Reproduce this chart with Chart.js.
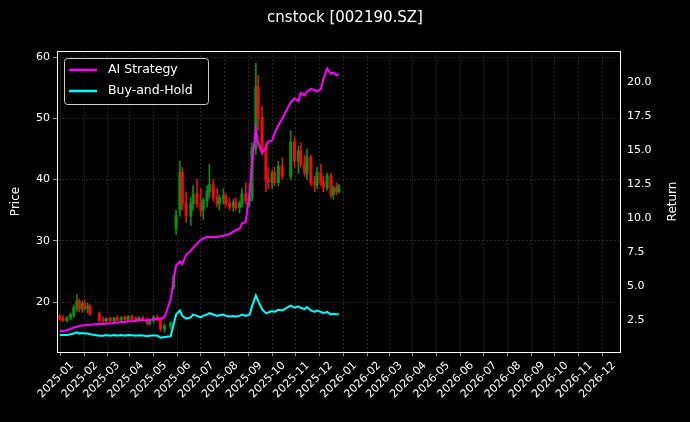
<!DOCTYPE html>
<html><head><meta charset="utf-8">
<script src="https://cdn.jsdelivr.net/npm/chart.js@4"></script>
<style>html,body{margin:0;background:#000;}#w{width:690px;height:422px;}</style>
</head><body><div id="w"><canvas id="c"></canvas></div>
<script>
const tickLabels=['2025-01','2025-02','2025-03','2025-04','2025-05','2025-06','2025-07','2025-08','2025-09','2025-10','2025-11','2025-12','2026-01','2026-02','2026-03','2026-04','2026-05','2026-06','2026-07','2026-08','2026-09','2026-10','2026-11','2026-12'];
const dates=['2024-12-16','2024-12-20','2024-12-25','2024-12-30','2025-01-03','2025-01-07','2025-01-10','2025-01-14','2025-01-17','2025-01-21','2025-01-24',
'2025-02-05','2025-02-10','2025-02-14','2025-02-19','2025-02-24','2025-02-28',
'2025-03-05','2025-03-10','2025-03-14','2025-03-19','2025-03-24','2025-03-28',
'2025-04-02','2025-04-08','2025-04-11','2025-04-16','2025-04-21','2025-04-25','2025-04-30',
'2025-05-08','2025-05-12','2025-05-15','2025-05-20','2025-05-23','2025-05-28',
'2025-06-03','2025-06-06','2025-06-11','2025-06-16','2025-06-19','2025-06-24','2025-06-27',
'2025-07-02','2025-07-07','2025-07-10','2025-07-15','2025-07-18','2025-07-23','2025-07-28','2025-07-31',
'2025-08-05','2025-08-08','2025-08-13','2025-08-18','2025-08-21','2025-08-26','2025-08-29',
'2025-09-03','2025-09-08','2025-09-11','2025-09-16','2025-09-19','2025-09-24','2025-09-29',
'2025-10-10','2025-10-15','2025-10-20','2025-10-23','2025-10-28','2025-10-31',
'2025-11-05','2025-11-10','2025-11-13','2025-11-18','2025-11-21','2025-11-26',
'2025-12-01','2025-12-04','2025-12-08','2025-12-11'];
const open=[17.5,17.2,17.0,17.4,17.8,19.0,20.0,18.8,19.6,18.9,19.2, 18.0,17.0,16.9,17.2,16.9,17.3, 17.0,17.4,17.1,17.5,17.2,17.0, 17.3,17.1,16.5,16.9,17.4,17.0,15.6, 16.0,22.5,32,35,41,36, 34,36,37.5,36,35,36.5,38, 39,37,36,36.8,37.2,36,35.5,36.2, 35.4,36,37.5,36.5,37,45,55, 50,45,40,39.5,41,39.5,42, 40.5,46,43,44.5,42.5,41, 43.5,39.5,39,41,39.5,38.6, 40.5,37.5,38.5,38];
const high=[18,17.8,17.6,18.2,19.5,21.2,20.5,20.2,20.4,19.8,19.6, 18.4,17.6,17.4,17.6,17.5,17.8, 17.6,17.7,17.8,17.9,17.6,17.6, 17.7,17.4,17.2,17.8,17.9,17.2,16.4, 16.8,24.5,35,43,42,38, 37,39,40,38.5,37,39,42.5, 40,38.5,37.5,38.5,37.8,37,36.8,37, 36.5,38.5,39.5,37.5,46,59,57, 52,46,42,41.5,42,43,43.5, 48,47,45.5,46,44,45, 44,40.5,42,42.5,40.5,41, 41,39,39.5,39.2];
const low=[17,16.8,16.7,17.1,17.5,18.5,18.4,18.3,18.6,18.2,17.8, 16.8,16.5,16.5,16.8,16.6,16.9, 16.7,16.9,16.9,17.0,16.8,16.8, 16.9,16.2,16.2,16.6,16.9,15.2,15.0, 15.6,22,31,34,35,33, 32.5,35,35.5,34,33.5,35.5,37, 36.5,35.5,35,36,35.5,35,34.8,35, 34.5,35.5,36,35.5,36.5,44,48, 44,38,38.5,38.5,39,39,40, 40,42,41,42,40.5,40, 39,38,38.5,39,38,38.2, 37,36.8,37.5,37.8];
const close=[17.2,17.0,17.4,17.8,19.0,20.0,18.8,19.6,18.9,19.2,18.0, 17.0,16.9,17.2,16.9,17.3,17.0, 17.4,17.1,17.5,17.2,17.0,17.3, 17.1,16.5,16.9,17.4,17.0,15.6,16.0, 16.4,24.0,34,41,36,34, 36,37.5,36,35,36.5,38,39, 37,36,36.8,37.2,36,35.5,36.2,35.4, 36,37.5,36.5,37,45,55,50, 45,40,39.5,41,39.5,42,40.5, 46,43,44.5,42.5,41,43.5, 39.5,39,41,39.5,38.6,40.5, 37.5,38.5,38,38.8];
const aiStrategy=[1.7,1.7,1.75,1.85,1.95,2.0,2.05,2.1,2.1,2.15,2.15, 2.2,2.2,2.25,2.25,2.3,2.3, 2.35,2.35,2.4,2.4,2.45,2.5, 2.5,2.45,2.5,2.55,2.6,2.6,2.7, 4.0,5.5,6.5,6.8,6.6,7.3, 7.6,7.8,8.1,8.4,8.5,8.6,8.6, 8.6,8.6,8.65,8.7,8.75,8.8,9.0,9.1, 9.2,9.6,9.7,12.0,14.0,16.5,15.5, 14.8,15.2,15.6,15.7,16.2,16.8,17.3, 18.5,18.8,18.6,19.2,19.0,19.3, 19.5,19.4,19.3,19.5,20.2,21.0, 20.6,20.7,20.5,20.6];
const buyHold=[1.4,1.4,1.4,1.45,1.5,1.6,1.5,1.55,1.5,1.5,1.45, 1.35,1.35,1.4,1.35,1.4,1.35, 1.4,1.35,1.4,1.38,1.35,1.38, 1.36,1.3,1.35,1.38,1.35,1.2,1.25, 1.3,2.2,2.9,3.2,2.8,2.6, 2.7,2.9,2.8,2.7,2.8,2.9,3.0, 2.9,2.8,2.85,2.9,2.8,2.75,2.8,2.75, 2.8,2.9,2.8,2.9,3.5,4.3,3.9, 3.3,3.0,3.05,3.15,3.1,3.25,3.2, 3.55,3.4,3.5,3.4,3.3,3.45, 3.2,3.1,3.2,3.1,3.0,3.1, 2.9,2.95,2.9,2.95];

const base=Date.UTC(2025,0,1);
const dayOf=s=>{const p=s.split('-').map(Number);return (Date.UTC(p[0],p[1]-1,p[2])-base)/86400000;};
const X=dates.map(dayOf);
const tickDays=tickLabels.map(t=>dayOf(t+'-01'));
const up=i=>close[i]>=open[i];
const col=i=>up(i)?'#138a13':'#e01010';
const wick=X.map((x,i)=>({x,y:[low[i],high[i]]}));
const body=X.map((x,i)=>({x,y:[Math.min(open[i],close[i]),Math.max(open[i],close[i])+0.15]}));
const ai=X.map((x,i)=>({x,y:aiStrategy[i]}));
const bh=X.map((x,i)=>({x,y:buyHold[i]}));
const F='DejaVu Sans';
const deco={id:'deco',afterDraw(ch){const c=ch.ctx,a=ch.chartArea;c.save();
c.fillStyle='#fff';c.font='15px '+F;c.textAlign='center';c.textBaseline='middle';c.fillText('cnstock [002190.SZ]',345,18);
c.font='12px '+F;
c.save();c.translate(16,(a.top+a.bottom)/2);c.rotate(-Math.PI/2);c.fillText('Price',0,0);c.restore();
c.save();c.translate(673,(a.top+a.bottom)/2);c.rotate(-Math.PI/2);c.fillText('Return',0,0);c.restore();
c.strokeStyle='#fff';c.lineWidth=1;c.strokeRect(a.left+0.5,a.top+0.5,a.right-a.left,a.bottom-a.top);
c.fillStyle='rgba(0,0,0,0.8)';c.strokeStyle='#ccc';c.beginPath();c.roundRect(64.5,58.5,144,46,3);c.fill();c.stroke();
c.lineWidth=2.5;c.strokeStyle='#ff00ff';c.beginPath();c.moveTo(69,70);c.lineTo(97,70);c.stroke();
c.strokeStyle='#00ffff';c.beginPath();c.moveTo(69,91);c.lineTo(97,91);c.stroke();
c.fillStyle='#fff';c.font='12.5px '+F;c.textAlign='left';c.fillText('AI Strategy',108,70);c.fillText('Buy-and-Hold',108,91);
c.restore();}};
new Chart(document.getElementById('c'),{
data:{datasets:[
{type:'bar',data:wick,yAxisID:'y',backgroundColor:wick.map((_,i)=>col(i)),barThickness:1,grouped:false,order:3},
{type:'bar',data:body,yAxisID:'y',backgroundColor:body.map((_,i)=>col(i)),barThickness:2.5,grouped:false,order:2},
{type:'line',data:ai,yAxisID:'y2',borderColor:'#ff00ff',borderWidth:2,pointRadius:0,tension:0,order:1},
{type:'line',data:bh,yAxisID:'y2',borderColor:'#00ffff',borderWidth:2,pointRadius:0,tension:0,order:0}
]},
options:{responsive:true,maintainAspectRatio:false,animation:false,
layout:{padding:{top:51,left:0,right:0,bottom:0}},
plugins:{legend:{display:false},tooltip:{enabled:false}},
scales:{
x:{type:'linear',min:-19.7,max:707,offset:false,
 afterBuildTicks:ax=>{ax.ticks=tickDays.map(v=>({value:v}));},
 afterFit:ax=>{ax.height=70;},
 ticks:{color:'#fff',font:{family:F,size:11},maxRotation:45,minRotation:45,autoSkip:false,
  callback:(v)=>{const k=tickDays.indexOf(v);return k>=0?tickLabels[k]:'';}},
 grid:{color:'rgba(150,150,150,0.45)',lineWidth:0.6,tickColor:'#fff',tickLength:4},border:{dash:[2,2],color:'#fff'}},
y:{position:'left',min:11.84,max:60.98,
 afterBuildTicks:ax=>{ax.ticks=[20,30,40,50,60].map(v=>({value:v}));},
 afterFit:ax=>{ax.width=57;},
 ticks:{color:'#fff',font:{family:F,size:11},padding:3},
 grid:{color:'rgba(150,150,150,0.45)',lineWidth:0.6,tickColor:'#fff',tickLength:4},border:{dash:[2,2],color:'#fff'}},
y2:{position:'right',min:0.147,max:22.28,
 afterBuildTicks:ax=>{ax.ticks=[2.5,5,7.5,10,12.5,15,17.5,20].map(v=>({value:v}));},
 afterFit:ax=>{ax.width=70;},
 ticks:{color:'#fff',font:{family:F,size:11},padding:3,callback:v=>v.toFixed(1)},
 grid:{display:false,drawOnChartArea:false,tickColor:'#fff',tickLength:4},border:{color:'#fff'}}
}},
plugins:[deco]});
</script></body></html>
